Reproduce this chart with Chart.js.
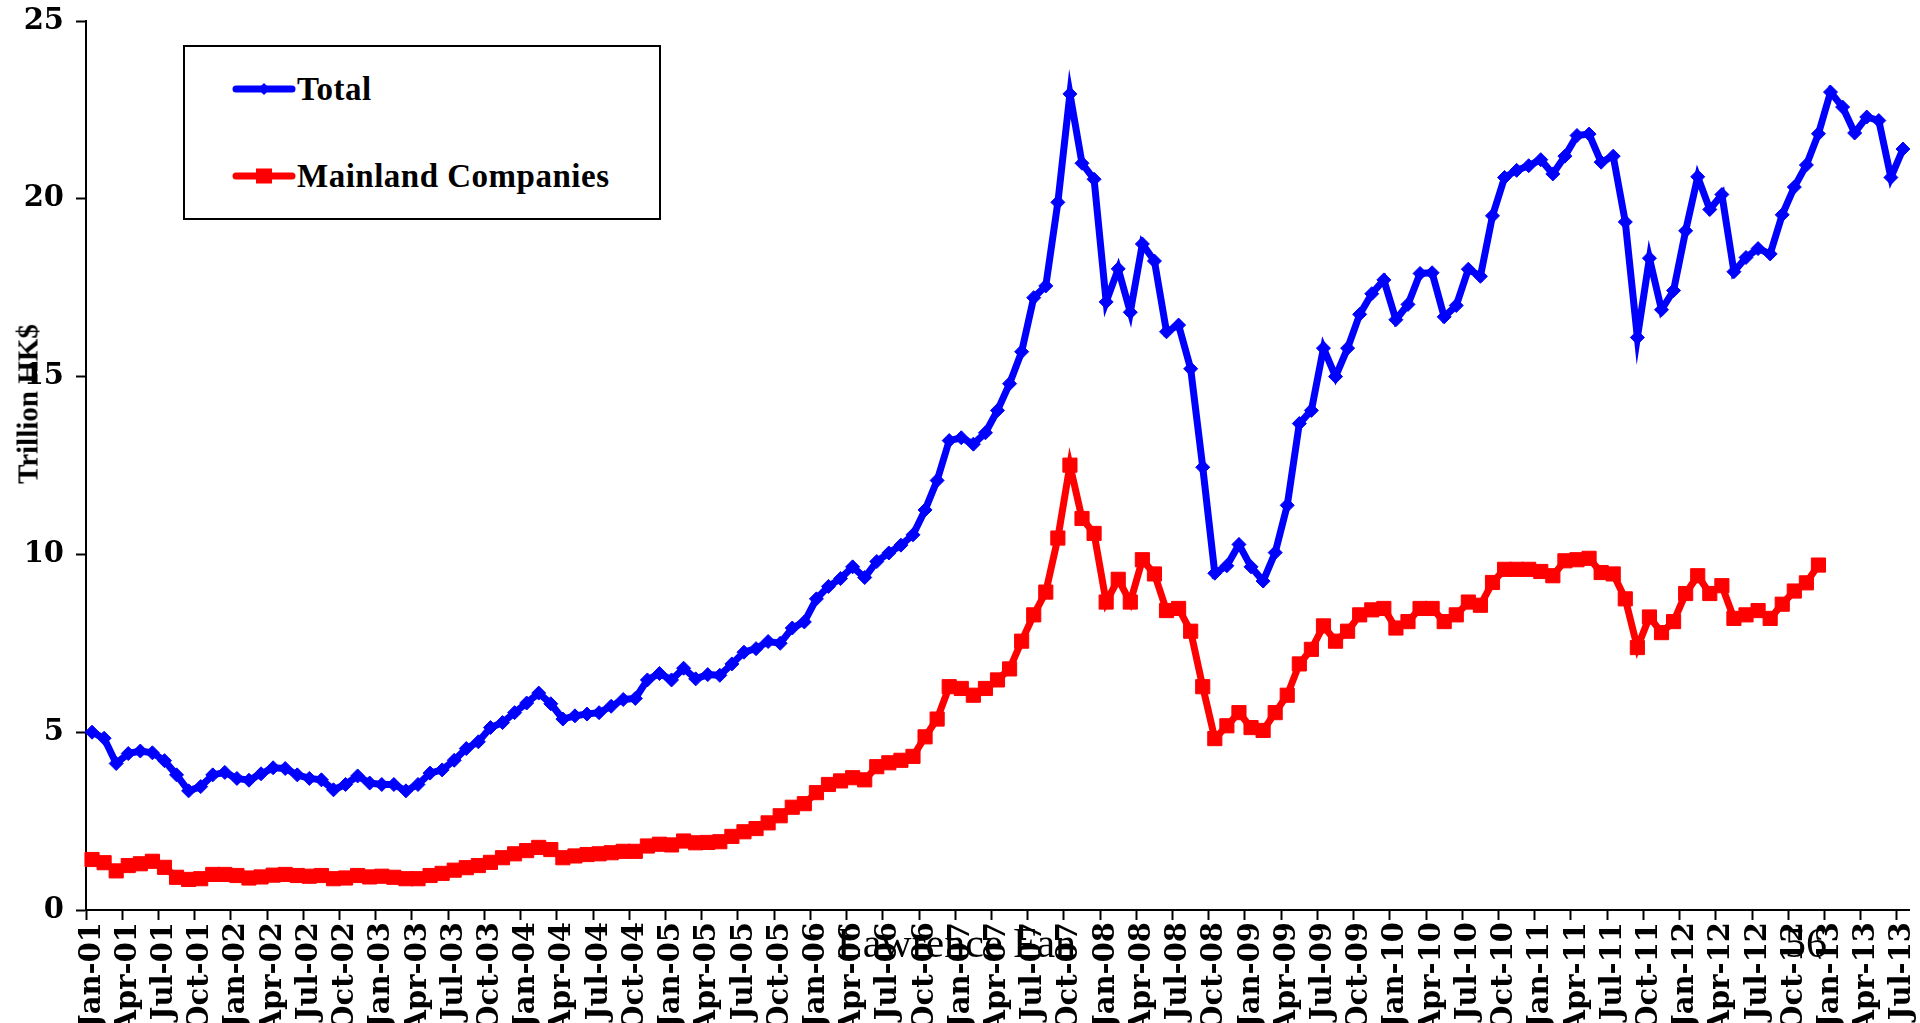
<!DOCTYPE html>
<html>
<head>
<meta charset="utf-8">
<script src="https://cdn.jsdelivr.net/npm/chart.js@4.4.1/dist/chart.umd.min.js"></script>
<style>
  html, body { margin: 0; padding: 0; background: #fff; overflow: hidden; }
  #wrap { position: relative; width: 1920px; height: 1023px; }
  .txt { position: absolute; white-space: nowrap; color: #000; font-family: "Liberation Serif", "Times New Roman", serif; }
  #legend { position: absolute; left: 183px; top: 45px; width: 478px; height: 175px; border: 2px solid #000; box-sizing: border-box; background: #fff; }
</style>
</head>
<body>
<div id="wrap">
  <canvas id="chart"></canvas>
  <div id="legend"></div>
  <div class="txt" id="ytitle" style="left:28px; top:404px; font-size:29px; font-weight:bold; line-height:1; transform:translate(-50%,-50%) rotate(-90deg);">Trillion HK$</div>
  <div class="txt" style="left:837px; top:922px; font-size:42px; line-height:42px;">Lawrence Fan</div>
  <div class="txt" style="left:1785px; top:922px; font-size:42px; line-height:42px;">56</div>
</div>
<script>
// Market capitalisation, monthly, Jan-01 .. Jul-13 (trillion HK$)
const monthNames = ['Jan', 'Feb', 'Mar', 'Apr', 'May', 'Jun', 'Jul', 'Aug', 'Sep', 'Oct', 'Nov', 'Dec'];
const years = ['01', '02', '03', '04', '05', '06', '07', '08', '09', '10', '11', '12', '13'];

const totalCap = [
  5.0, 4.83, 4.12, 4.4, 4.47, 4.42, 4.2, 3.8, 3.35, 3.47, 3.8, 3.87,
  3.7, 3.65, 3.83, 4.0, 3.98, 3.8, 3.7, 3.66, 3.38, 3.53, 3.77, 3.57,
  3.53, 3.53, 3.35, 3.53, 3.85, 3.94, 4.21, 4.54, 4.73, 5.13, 5.27, 5.55,
  5.82, 6.1, 5.8, 5.37, 5.46, 5.51, 5.55, 5.73, 5.92, 5.95, 6.47, 6.65,
  6.47, 6.8, 6.5, 6.62, 6.6, 6.92, 7.25, 7.35, 7.55, 7.5, 7.93, 8.1,
  8.75, 9.1, 9.32, 9.65, 9.35, 9.8, 10.04, 10.26, 10.55, 11.25, 12.08, 13.2,
  13.28, 13.1, 13.42, 14.05, 14.8, 15.7, 17.22, 17.55, 19.9, 22.95, 21.0, 20.55,
  17.1, 18.03, 16.81, 18.73, 18.25, 16.26, 16.45, 15.22, 12.45, 9.47, 9.68, 10.28,
  9.65, 9.25, 10.05, 11.38, 13.68, 14.05, 15.8, 15.0, 15.8, 16.75, 17.33, 17.72,
  16.6, 17.03, 17.9, 17.92, 16.68, 17.0, 18.02, 17.82, 19.52, 20.6, 20.8, 20.93,
  21.1, 20.7, 21.2, 21.78, 21.82, 21.03, 21.2, 19.35, 16.1, 18.33, 16.88, 17.42,
  19.1, 20.62, 19.7, 20.12, 17.95, 18.35, 18.6, 18.45, 19.55, 20.33, 20.95, 21.83,
  23.0, 22.58, 21.85, 22.3, 22.2, 20.6, 21.4
];

const mainlandCap = [
  1.42, 1.33, 1.1, 1.25, 1.3, 1.37, 1.2, 0.92, 0.86, 0.88, 1.0, 1.0,
  0.97, 0.9, 0.93, 0.98, 1.0, 0.97, 0.95, 0.97, 0.88, 0.9, 0.97, 0.93,
  0.95, 0.92, 0.88, 0.88, 0.97, 1.03, 1.12, 1.19, 1.25, 1.34, 1.47, 1.58,
  1.67, 1.76, 1.7, 1.47, 1.52, 1.56, 1.58, 1.61, 1.65, 1.65, 1.8, 1.85,
  1.83, 1.94, 1.89, 1.9, 1.92, 2.07, 2.2, 2.29, 2.45, 2.65, 2.89, 2.99,
  3.3, 3.53, 3.63, 3.72, 3.66, 4.03, 4.14, 4.21, 4.32, 4.87, 5.37, 6.28,
  6.23, 6.04, 6.23, 6.47, 6.78, 7.56, 8.3, 8.94, 10.46, 12.51, 11.01, 10.59,
  8.66, 9.3, 8.66, 9.85, 9.45, 8.42, 8.48, 7.84, 6.28, 4.82, 5.18, 5.55,
  5.13, 5.05, 5.55, 6.04, 6.92, 7.33, 7.99, 7.56, 7.84, 8.3, 8.44, 8.48,
  7.93, 8.11, 8.48, 8.48, 8.11, 8.3, 8.66, 8.57, 9.21, 9.58, 9.58, 9.58,
  9.52, 9.4, 9.82, 9.85, 9.89, 9.49, 9.45, 8.75, 7.38, 8.24, 7.8, 8.11,
  8.9, 9.4, 8.9, 9.12, 8.2, 8.3, 8.42, 8.2, 8.6, 8.97, 9.2, 9.7
];

const yTicks = [0, 5, 10, 15, 20, 25];

// Jan-01 ... Jul-13
const months = [];
years.forEach(y => {
  monthNames.forEach(m => {
    if (months.length < totalCap.length) months.push(m + '-' + y);
  });
});

const seriesInfo = [
  { label: 'Total', data: totalCap, color: '#0000FF', marker: 'rectRot', radius: 7 },
  { label: 'Mainland Companies', data: mainlandCap, color: '#FF0000', marker: 'rect', radius: 10 }
];

const tickFont = { family: '"DejaVu Serif", serif', size: 29, weight: 'bold' };

const canvas = document.getElementById('chart');
canvas.style.width = '1920px';
canvas.style.height = '1023px';

new Chart(canvas.getContext('2d'), {
  type: 'line',
  data: {
    labels: months,
    datasets: seriesInfo.map(s => ({
      label: s.label,
      data: s.data,
      borderColor: s.color,
      backgroundColor: s.color,
      borderWidth: 7,
      pointStyle: s.marker,
      pointRadius: s.radius,
      pointBorderWidth: 1,
      pointBackgroundColor: s.color,
      pointBorderColor: s.color,
      tension: 0,
      fill: false
    }))
  },
  options: {
    responsive: false,
    animation: false,
    devicePixelRatio: 1,
    layout: {
      padding: { top: 21, right: 10, bottom: 0, left: 0 }
    },
    scales: {
      x: {
        type: 'category',
        offset: true,
        grid: {
          offset: true,
          drawOnChartArea: false,
          tickLength: 10,
          tickWidth: 2,
          // tick mark only at every quarter boundary
          tickColor: ctx => (ctx.type === 'tick' && ctx.index % 3 === 0) ? '#000' : 'rgba(0,0,0,0)'
        },
        border: { color: '#000', width: 2 },
        ticks: {
          autoSkip: false,
          minRotation: 90,
          maxRotation: 90,
          padding: 2,
          color: '#000',
          font: tickFont,
          callback: (val, idx) => idx % 3 === 0 ? months[idx] : ''
        },
        afterFit: scale => {
          scale.paddingLeft = 0;
          scale.paddingRight = 0;
          scale.height = 113;
        }
      },
      y: {
        min: 0,
        max: 25,
        afterBuildTicks: scale => {
          scale.ticks = yTicks.map(v => ({ value: v }));
        },
        grid: {
          drawOnChartArea: false,
          tickLength: 10,
          tickWidth: 2,
          tickColor: '#000'
        },
        border: { color: '#000', width: 2 },
        ticks: {
          padding: 12,
          color: '#000',
          font: tickFont
        },
        afterFit: scale => {
          scale.width = 86;
          scale.paddingTop = 0;
          scale.paddingBottom = 0;
        }
      }
    },
    plugins: {
      legend: { display: false },
      tooltip: { enabled: false }
    }
  }
});

// legend box drawn as html, one row per series
const legend = document.getElementById('legend');
const rowY = [89, 176];
seriesInfo.forEach((s, k) => {
  const cy = rowY[k] - 45 - 2;
  const svgNS = 'http://www.w3.org/2000/svg';
  const svg = document.createElementNS(svgNS, 'svg');
  svg.setAttribute('width', '72');
  svg.setAttribute('height', '24');
  svg.style.position = 'absolute';
  svg.style.left = (228 - 183 - 2) + 'px';
  svg.style.top = (cy - 12) + 'px';
  const line = document.createElementNS(svgNS, 'line');
  line.setAttribute('x1', '8');
  line.setAttribute('x2', '64');
  line.setAttribute('y1', '12');
  line.setAttribute('y2', '12');
  line.setAttribute('stroke', s.color);
  line.setAttribute('stroke-width', '7');
  line.setAttribute('stroke-linecap', 'round');
  svg.appendChild(line);
  let mark;
  if (s.marker === 'rect') {
    mark = document.createElementNS(svgNS, 'rect');
    mark.setAttribute('x', '28');
    mark.setAttribute('y', '4.5');
    mark.setAttribute('width', '16');
    mark.setAttribute('height', '15');
  } else {
    mark = document.createElementNS(svgNS, 'polygon');
    mark.setAttribute('points', '30,12 36,6 42,12 36,18');
  }
  mark.setAttribute('fill', s.color);
  svg.appendChild(mark);
  legend.appendChild(svg);

  const t = document.createElement('div');
  t.className = 'txt';
  t.textContent = s.label;
  t.style.left = (297 - 183 - 2) + 'px';
  t.style.top = (rowY[k] + 12 - 45 - 2 - 28) + 'px';
  t.style.fontSize = '33px';
  t.style.lineHeight = '33px';
  t.style.letterSpacing = '0.5px';
  t.style.fontWeight = 'bold';
  legend.appendChild(t);
});
</script>
</body>
</html>
